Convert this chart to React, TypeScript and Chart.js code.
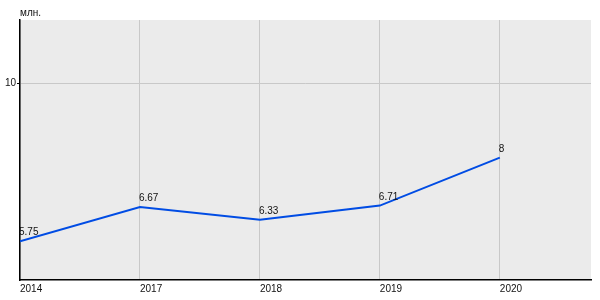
import React, { useEffect, useRef } from "react";
import { Chart, registerables } from "chart.js";

Chart.register(...registerables);

const years = ["2014", "2017", "2018", "2019", "2020"];
const values = [5.75, 6.67, 6.33, 6.71, 8];
const valueLabels = ["5.75", "6.67", "6.33", "6.71", "8"];
const yTicks = [10];
const unitLabel = "млн.";

const FONT = "'Liberation Sans', Arial, sans-serif";

export default function App() {
  const ref = useRef<HTMLCanvasElement | null>(null);

  useEffect(() => {
    if (!ref.current) return;
    const bgPlugin = {
      id: "bg",
      beforeDraw(chart: any) {
        const { ctx, chartArea } = chart;
        ctx.save();
        ctx.fillStyle = "#ebebeb";
        ctx.fillRect(chartArea.left, chartArea.top, chartArea.right - chartArea.left, chartArea.bottom - chartArea.top);
        ctx.restore();
      },
      afterDatasetsDraw(chart: any) {
        const { ctx } = chart;
        const meta = chart.getDatasetMeta(0);
        ctx.save();
        ctx.font = `10px ${FONT}`;
        ctx.fillStyle = "#111";
        ctx.textAlign = "left";
        ctx.textBaseline = "alphabetic";
        meta.data.forEach((pt: any, i: number) => {
          ctx.fillText(valueLabels[i], pt.x - 1, pt.y - 6);
        });
        ctx.fillText(unitLabel, 20, 16);
        ctx.restore();
      },
    };

    const chart = new Chart(ref.current, {
      type: "line",
      data: {
        datasets: [
          {
            data: values.map((v, i) => ({ x: i, y: v })),
            borderColor: "#004ce4",
            borderWidth: 2,
            pointRadius: 0,
            tension: 0,
            fill: false,
          },
        ],
      },
      options: {
        responsive: false,
        animation: false,
        layout: { padding: { top: 20, right: 9, left: 0, bottom: 0 } },
        plugins: { legend: { display: false }, tooltip: { enabled: false }, title: { display: false } },
        scales: {
          x: {
            type: "linear",
            min: 0,
            max: 4.76,
            afterBuildTicks: (axis: any) => {
              axis.ticks = years.map((_, i) => ({ value: i }));
            },
            afterFit: (axis: any) => {
              axis.height = 20;
            },
            grid: { color: "#c8c8c8", drawTicks: false, lineWidth: 1 },
            border: { color: "#000", width: 1.5 },
            ticks: {
              align: "start",
              maxRotation: 0,
              autoSkip: false,
              padding: 3,
              color: "#111",
              font: { size: 10, family: FONT },
              callback: (v: any) => years[v] ?? "",
            },
          },
          y: {
            type: "linear",
            min: 4.71,
            max: 11.7,
            afterBuildTicks: (axis: any) => {
              axis.ticks = yTicks.map((v) => ({ value: v }));
            },
            afterFit: (axis: any) => {
              axis.width = 20;
            },
            grid: { color: "#c8c8c8", tickLength: 3, tickColor: "#000", lineWidth: 1 },
            border: { color: "#000", width: 1.5 },
            ticks: {
              padding: 1,
              color: "#111",
              font: { size: 10, family: FONT },
              callback: (v: any) => String(v),
            },
          },
        },
      },
      plugins: [bgPlugin],
    } as any);
    return () => chart.destroy();
  }, []);

  return (
    <div style={{ position: "absolute", left: 0, top: 0, width: 600, height: 300, background: "#fff" }}>
      <canvas ref={ref} width={600} height={300} style={{ display: "block" }} />
    </div>
  );
}
